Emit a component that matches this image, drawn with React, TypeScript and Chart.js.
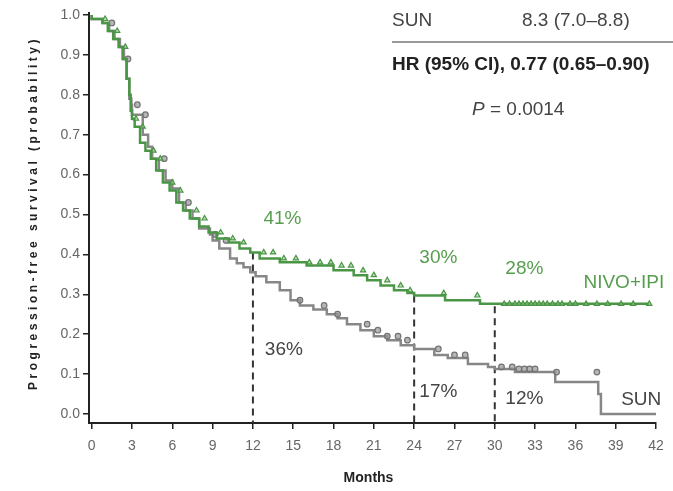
import { useEffect, useRef } from 'react';
import { Chart, registerables } from 'chart.js';
Chart.register(...registerables);

// Kaplan–Meier step data (months, probability)
const nivoTimes = [0, 0.8, 1.2, 1.6, 2.0, 2.3, 2.6, 2.8, 2.9, 3.0, 3.2, 3.6, 4.0, 4.4, 4.8, 5.3, 5.8, 6.3, 6.8, 7.3, 8.0, 8.7, 9.3, 10.2, 11.0, 11.8, 12.5, 14.0, 16.0, 18.0, 19.5, 20.5, 21.5, 22.5, 23.5, 24.0, 26.3, 28.9, 30.4, 41.5];
const nivoSurv = [1.0, 0.99, 0.98, 0.96, 0.94, 0.92, 0.89, 0.84, 0.8, 0.76, 0.74, 0.72, 0.68, 0.66, 0.64, 0.61, 0.58, 0.56, 0.53, 0.51, 0.49, 0.47, 0.455, 0.44, 0.43, 0.415, 0.405, 0.39, 0.38, 0.372, 0.36, 0.348, 0.335, 0.322, 0.31, 0.303, 0.297, 0.285, 0.276, 0.276];
const sunTimes = [0, 0.8, 1.3, 1.7, 2.1, 2.4, 2.6, 2.8, 2.95, 3.0, 3.8, 4.2, 4.5, 5.0, 5.5, 6.0, 6.5, 7.0, 7.5, 8.0, 8.8, 9.0, 9.5, 10.3, 10.8, 11.3, 11.8, 12.2, 13.0, 14.0, 14.8, 15.5, 16.5, 17.5, 18.3, 19.0, 20.0, 21.0, 22.0, 23.0, 24.0, 25.5, 26.5, 28.0, 29.5, 30.0, 31.5, 34.5, 37.7, 37.9, 38.2, 42.0];
const sunSurv = [1.0, 0.99, 0.98, 0.96, 0.94, 0.92, 0.89, 0.84, 0.79, 0.775, 0.75, 0.7, 0.67, 0.64, 0.61, 0.585, 0.565, 0.53, 0.51, 0.49, 0.465, 0.45, 0.435, 0.415, 0.39, 0.378, 0.368, 0.355, 0.345, 0.33, 0.31, 0.285, 0.272, 0.262, 0.25, 0.24, 0.225, 0.21, 0.195, 0.185, 0.172, 0.163, 0.148, 0.14, 0.125, 0.118, 0.113, 0.105, 0.08, 0.05, 0.0, 0.0];

// censoring times
const nivoCensor = [1.0, 1.9, 2.5, 3.3, 3.8, 4.6, 5.1, 6.0, 6.6, 7.8, 8.4, 9.6, 10.5, 11.3, 12.8, 13.5, 14.3, 15.2, 16.2, 17.0, 17.8, 18.6, 19.3, 20.2, 21.0, 22.0, 23.0, 23.7, 26.2, 28.7, 30.7, 31.1, 31.5, 31.8, 32.1, 32.4, 32.7, 33.0, 33.3, 33.6, 33.9, 34.3, 34.7, 35.0, 35.6, 36.0, 36.8, 37.6, 38.4, 39.4, 40.3, 41.5];
const sunCensor = [1.5, 2.7, 3.4, 4.0, 5.4, 7.2, 9.2, 10.0, 15.5, 17.3, 18.3, 20.5, 21.3, 22.0, 22.8, 23.5, 25.8, 27.0, 27.8, 30.5, 31.3, 31.8, 32.2, 32.6, 33.0, 34.6, 37.6];

const xTicks = [0, 3, 6, 9, 12, 15, 18, 21, 24, 27, 30, 33, 36, 39, 42];
const yTicks = [0, 0.1, 0.2, 0.3, 0.4, 0.5, 0.6, 0.7, 0.8, 0.9, 1.0];

const landmarkMonths = [12, 24, 30];
const landmarkTop = [0.405, 0.297, 0.27];
const nivoLandmarkLabels = ['41%', '30%', '28%'];
const sunLandmarkLabels = ['36%', '17%', '12%'];

const GREEN = 'rgb(74,150,70)';
const GREEN_TEXT = 'rgb(86,158,78)';
const GRAY = 'rgb(135,135,135)';
const FONT = '"Liberation Sans", Arial, sans-serif';

function survAt(times: number[], surv: number[], t: number) {
  let s = surv[0];
  for (let i = 0; i < times.length; i++) {
    if (times[i] <= t) s = surv[i];
    else break;
  }
  return s;
}

function text(ctx: CanvasRenderingContext2D, s: string, x: number, yc: number, size: number, weight: string, color: string, align: CanvasTextAlign = 'left', style = 'normal') {
  ctx.font = `${style} ${weight} ${size}px ${FONT}`;
  ctx.fillStyle = color;
  ctx.textAlign = align;
  ctx.textBaseline = 'alphabetic';
  ctx.fillText(s, x, yc + 0.36 * size);
}

const annotPlugin = {
  id: 'annot',
  beforeDatasetsDraw(chart: any) {
    const ctx = chart.ctx as CanvasRenderingContext2D;
    const xs = chart.scales.x;
    const ys = chart.scales.y;
    ctx.save();
    ctx.strokeStyle = '#333';
    ctx.lineWidth = 2;
    ctx.setLineDash([7, 5]);
    landmarkMonths.forEach((m, i) => {
      const px = xs.getPixelForValue(m);
      ctx.beginPath();
      ctx.moveTo(px, ys.getPixelForValue(landmarkTop[i]));
      ctx.lineTo(px, chart.chartArea.bottom);
      ctx.stroke();
    });
    ctx.restore();
  },
  afterDraw(chart: any) {
    const ctx = chart.ctx as CanvasRenderingContext2D;
    const xs = chart.scales.x;
    const ys = chart.scales.y;
    const X = (v: number) => xs.getPixelForValue(v);
    const Y = (v: number) => ys.getPixelForValue(v);
    ctx.save();
    // landmark percentages
    const nivoPos = [[14.2, 0.494], [25.8, 0.396], [32.2, 0.368]];
    const sunPos = [[14.3, 0.165], [25.8, 0.06], [32.2, 0.043]];
    nivoLandmarkLabels.forEach((l, i) => text(ctx, l, X(nivoPos[i][0]), Y(nivoPos[i][1]), 19, 'normal', GREEN_TEXT, 'center'));
    sunLandmarkLabels.forEach((l, i) => text(ctx, l, X(sunPos[i][0]), Y(sunPos[i][1]), 19, 'normal', '#444', 'center'));
    text(ctx, 'NIVO+IPI', X(36.6), Y(0.333), 19, 'normal', GREEN_TEXT, 'left');
    text(ctx, 'SUN', X(40.9), Y(0.04), 19, 'normal', '#444', 'center');

    // top-right table
    text(ctx, 'SUN', 392, 19, 19, 'normal', '#444');
    text(ctx, '8.3 (7.0–8.8)', 522, 19, 19, 'normal', '#444');
    ctx.strokeStyle = '#999';
    ctx.lineWidth = 2;
    ctx.beginPath();
    ctx.moveTo(392, 42);
    ctx.lineTo(673, 42);
    ctx.stroke();
    text(ctx, 'HR (95% CI), 0.77 (0.65–0.90)', 392, 63, 19, 'bold', '#222');
    text(ctx, 'P', 472, 108, 19, 'normal', '#444', 'left', 'italic');
    ctx.font = `italic normal 19px ${FONT}`;
    const pw = ctx.measureText('P').width;
    text(ctx, ' = 0.0014', 472 + pw, 108, 19, 'normal', '#444');

    // axis titles
    text(ctx, 'Months', (chart.chartArea.left + chart.chartArea.right) / 2 - 4, 477, 14, 'bold', '#222', 'center');
    ctx.save();
    ctx.translate(33, 213);
    ctx.rotate(-Math.PI / 2);
    (ctx as any).letterSpacing = '3.5px';
    text(ctx, 'Progression-free survival (probability)', 0, 0, 12, 'bold', '#222', 'center');
    ctx.restore();
    ctx.restore();
  },
};

export default function App() {
  const ref = useRef<HTMLCanvasElement>(null);
  useEffect(() => {
    if (!ref.current) return;
    const nivoLine = nivoTimes.map((t, i) => ({ x: t, y: nivoSurv[i] }));
    const sunLine = sunTimes.map((t, i) => ({ x: t, y: sunSurv[i] }));
    const nivoMarks = nivoCensor.map((t) => ({ x: t, y: survAt(nivoTimes, nivoSurv, t) }));
    const sunMarks = sunCensor.map((t) => ({ x: t, y: survAt(sunTimes, sunSurv, t) }));
    const chart = new Chart(ref.current, {
      type: 'line',
      data: {
        datasets: [
          { label: 'NIVO+IPI censored', type: 'scatter', data: nivoMarks, pointStyle: 'triangle', pointRadius: 3, borderColor: GREEN, backgroundColor: 'rgba(150,200,140,0.6)', borderWidth: 1.2, showLine: false } as any,
          { label: 'NIVO+IPI', data: nivoLine, stepped: 'after', borderColor: GREEN, borderWidth: 2.5, pointRadius: 0, fill: false },
          { label: 'SUN censored', type: 'scatter', data: sunMarks, pointStyle: 'circle', pointRadius: 2.8, borderColor: 'rgb(115,115,115)', backgroundColor: 'rgba(150,150,150,0.7)', borderWidth: 1.2, showLine: false } as any,
          { label: 'SUN', data: sunLine, stepped: 'after', borderColor: GRAY, borderWidth: 2.5, pointRadius: 0, fill: false },
        ],
      },
      options: {
        animation: false,
        responsive: false,
        maintainAspectRatio: false,
        layout: { padding: { top: 13, right: 17, bottom: 0, left: 0 } },
        plugins: { legend: { display: false }, tooltip: { enabled: false }, title: { display: false } },
        scales: {
          x: {
            type: 'linear',
            min: -0.2,
            max: 42,
            afterBuildTicks: (s: any) => { s.ticks = xTicks.map((v) => ({ value: v })); },
            afterFit: (s: any) => { s.height = 68; },
            grid: { display: true, drawOnChartArea: false, drawTicks: true, tickLength: 6, color: '#222', lineWidth: 1.5 },
            border: { display: true, color: '#222', width: 2 },
            ticks: { color: '#666', font: { family: FONT, size: 14 }, padding: 9, maxRotation: 0, autoSkip: false, callback: (v: any) => String(v) },
          },
          y: {
            type: 'linear',
            min: -0.0226,
            max: 1.005,
            afterBuildTicks: (s: any) => { s.ticks = yTicks.map((v) => ({ value: v })); },
            afterFit: (s: any) => { s.width = 89; },
            grid: { display: true, drawOnChartArea: false, drawTicks: true, tickLength: 6, color: '#222', lineWidth: 1.5 },
            border: { display: true, color: '#222', width: 2 },
            ticks: { color: '#666', font: { family: FONT, size: 14 }, padding: 3, autoSkip: false, callback: (v: any) => Number(v).toFixed(1) },
          },
        },
      },
      plugins: [annotPlugin],
    });
    return () => chart.destroy();
  }, []);
  return (
    <div style={{ position: 'fixed', left: 0, top: 0, width: 673, height: 491, background: '#fff' }}>
      <canvas ref={ref} width={673} height={491} style={{ width: 673, height: 491, display: 'block' }} />
    </div>
  );
}
